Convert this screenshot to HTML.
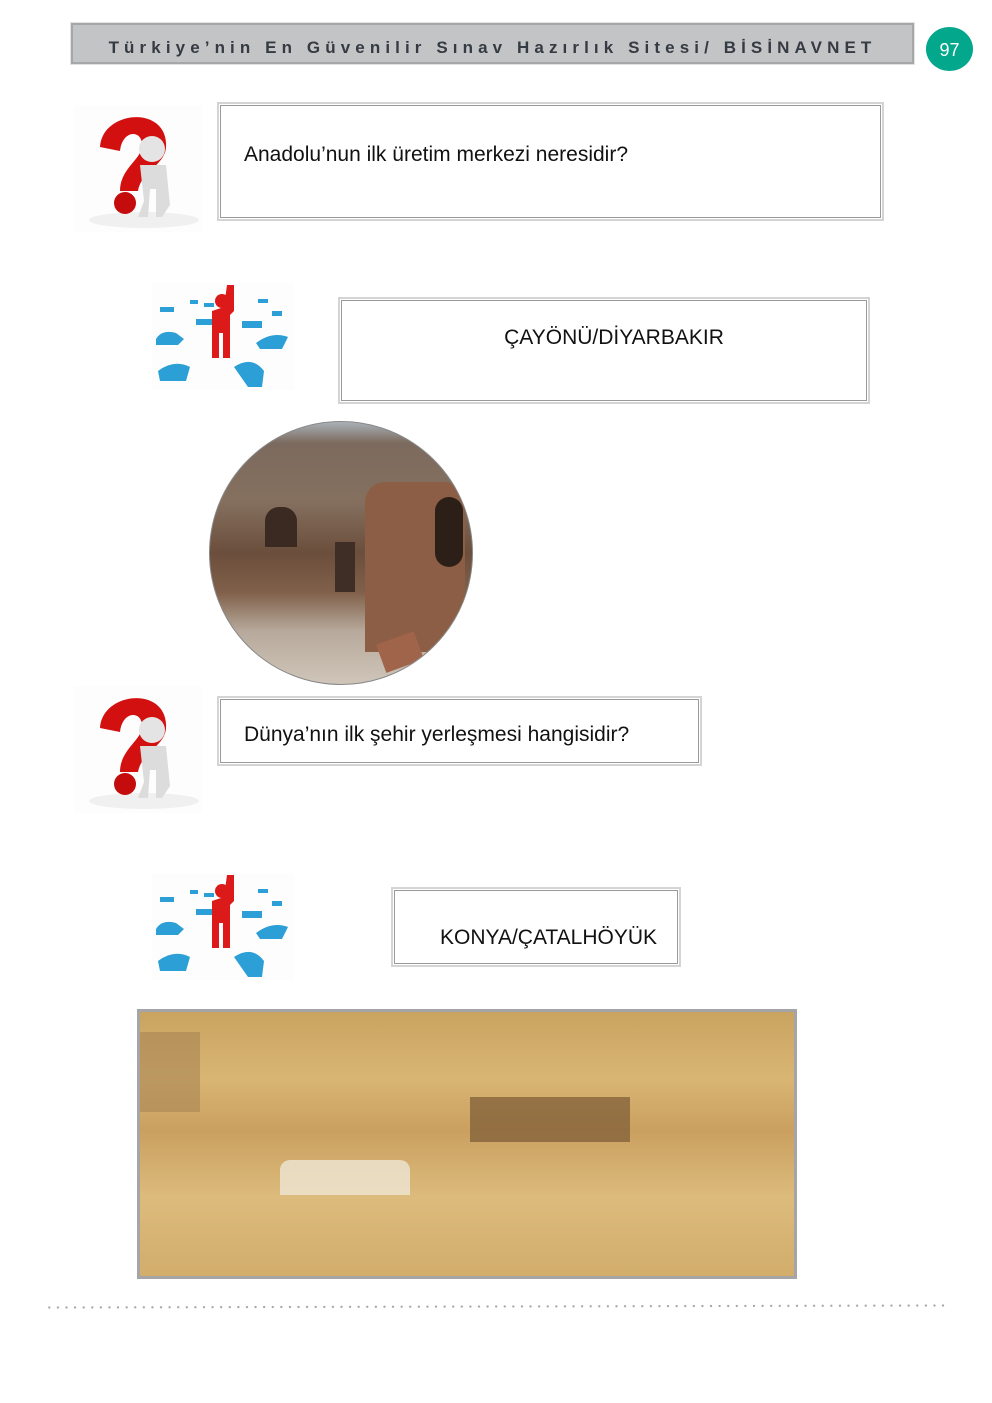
<!DOCTYPE html>
<html><head><meta charset="utf-8"><style>
body{margin:0;background:#fff;}
.pg{position:relative;width:992px;height:1403px;overflow:hidden;font-family:"Liberation Sans","DejaVu Sans",sans-serif;}
.a{position:absolute;}
.box{position:absolute;box-sizing:border-box;border:2px solid #d4d4d4;background:#fff;}
.box:after{content:"";position:absolute;left:1px;top:1px;right:1px;bottom:1px;border:1px solid #9a9a9a;}
.t{position:absolute;font-size:21px;color:#111;white-space:nowrap;}
</style></head><body><div class="pg">
<svg width="0" height="0" style="position:absolute">
<defs>
<g id="qm">
<rect x="0" y="0" width="128" height="127" fill="#fdfdfd"/>
<ellipse cx="70" cy="115" rx="55" ry="8" fill="#f0f0f0"/>
<path d="M26 42 C28 6 90 0 92 38 C94 60 68 64 64 86 L46 86 C46 62 70 54 68 38 C66 24 48 26 46 46 Z" fill="#d21010"/>
<circle cx="51" cy="98" r="11" fill="#c50c0c"/>
<circle cx="78" cy="44" r="13" fill="#e4e4e4"/>
<path d="M66 60 L92 60 L96 100 L88 112 L82 112 L82 84 L76 84 L74 112 L64 112 L70 96 Z" fill="#dcdcdc"/>
</g>
<g id="pp">
<rect x="0" y="0" width="142" height="107" fill="#fdfdfd"/>
<path d="M75 2 L82 2 L82 28 L78 32 L78 75 L71 75 L71 50 L67 50 L67 75 L60 75 L60 28 L72 24 Z" fill="#dc1a1a"/>
<circle cx="70" cy="18" r="7" fill="#dc1a1a"/>
<g fill="#2b9fd6">
<rect x="8" y="24" width="14" height="5"/><rect x="38" y="17" width="8" height="4"/><rect x="52" y="20" width="10" height="4"/>
<rect x="106" y="16" width="10" height="4"/><rect x="120" y="28" width="10" height="5"/>
<rect x="44" y="36" width="16" height="6"/><rect x="90" y="38" width="20" height="7"/>
<path d="M4 56 Q10 46 24 50 L32 56 L26 62 L4 62 Z"/><path d="M104 60 Q120 48 136 54 L130 66 L108 66 Z"/>
<path d="M6 88 Q22 76 38 84 L34 98 L8 98 Z"/><path d="M82 84 Q100 72 112 88 L110 104 L96 104 Z"/>
</g>
</g>
</defs></svg>

<div class="a" style="left:71px;top:23px;width:843px;height:41px;box-sizing:border-box;background:#c3c4c6;border:2px solid #a6a7a9;box-shadow:0 0 0 1px #e2e2e2;"></div>
<div class="a" style="left:71px;top:38px;width:843px;text-align:center;font-weight:bold;font-size:17px;letter-spacing:5.1px;color:#353b42;white-space:nowrap;">Türkiye’nin En Güvenilir Sınav Hazırlık Sitesi/ BİSİNAVNET</div>
<div class="a" style="left:926px;top:27px;width:47px;height:44px;border-radius:50%;background:#03a78b;color:#fff;font-size:18px;text-align:center;line-height:46px;">97</div>

<svg class="a" style="left:74px;top:105px" width="128" height="127"><use href="#qm"/></svg>
<div class="box" style="left:217px;top:102px;width:667px;height:119px;"></div>
<div class="t" style="left:244px;top:143px;">Anadolu’nun ilk üretim merkezi neresidir?</div>

<svg class="a" style="left:152px;top:283px" width="142" height="107"><use href="#pp"/></svg>
<div class="box" style="left:338px;top:297px;width:532px;height:107px;"></div>
<div class="t" style="left:338px;top:326px;width:552px;text-align:center;">ÇAYÖNÜ/DİYARBAKIR</div>

<div class="a" style="left:209px;top:421px;width:262px;height:262px;border-radius:50%;border:1px solid #888;overflow:hidden;background:linear-gradient(180deg,#a9b1b8 0%,#7c6a5e 8%,#85705f 30%,#6b4e3c 50%,#80604a 65%,#b7aa9c 80%,#cfc5b8 100%);">
<div class="a" style="left:155px;top:60px;width:100px;height:170px;background:#8b5e45;border-radius:20px 20px 0 0;"></div>
<div class="a" style="left:225px;top:75px;width:28px;height:70px;background:#2c1f18;border-radius:14px;"></div>
<div class="a" style="left:55px;top:85px;width:32px;height:40px;background:#3a2a22;border-radius:14px 14px 0 0;"></div>
<div class="a" style="left:125px;top:120px;width:20px;height:50px;background:#3f2e25;"></div>
<div class="a" style="left:170px;top:215px;width:40px;height:30px;background:#a0644a;transform:rotate(-20deg);"></div>
</div>

<svg class="a" style="left:74px;top:686px" width="128" height="127"><use href="#qm"/></svg>
<div class="box" style="left:217px;top:696px;width:485px;height:70px;"></div>
<div class="t" style="left:244px;top:723px;">Dünya’nın ilk şehir yerleşmesi hangisidir?</div>

<svg class="a" style="left:152px;top:873px" width="142" height="107"><use href="#pp"/></svg>
<div class="box" style="left:391px;top:887px;width:290px;height:80px;"></div>
<div class="t" style="left:440px;top:926px;">KONYA/ÇATALHÖYÜK</div>

<div class="a" style="left:137px;top:1009px;width:660px;height:270px;box-sizing:border-box;border:3px solid #a5a5a8;background:linear-gradient(180deg,#c9a360 0%,#d9b574 25%,#caa060 45%,#dcbb7c 70%,#d2ad6c 100%);overflow:hidden;">
<div class="a" style="left:330px;top:85px;width:160px;height:45px;background:#7a5a34;opacity:.7;"></div>
<div class="a" style="left:140px;top:148px;width:130px;height:35px;background:#ece3cf;border-radius:10px 10px 0 0;opacity:.85;"></div>
<div class="a" style="left:0;top:20px;width:60px;height:80px;background:#a98653;opacity:.6;"></div>
</div>

<div class="a" style="left:45px;top:1305px;width:905px;height:3px;background:radial-gradient(circle,#a0a4ac 1px,transparent 1.3px) 0 0/8.6px 3px repeat-x;transform:rotate(-0.13deg);"></div>
</div></body></html>
